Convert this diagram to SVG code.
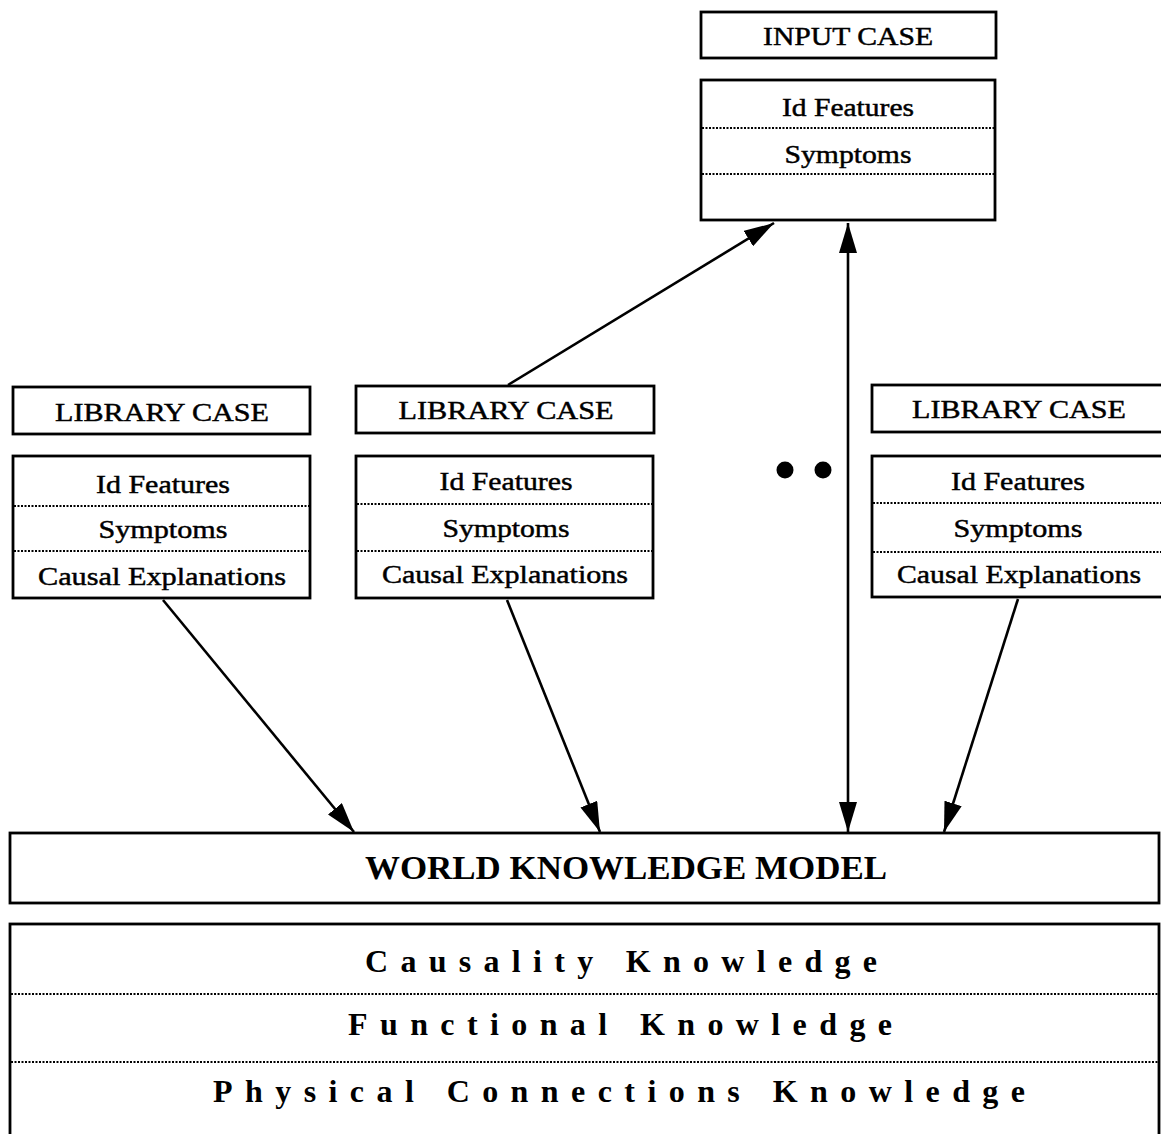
<svg xmlns="http://www.w3.org/2000/svg" width="1161" height="1134" viewBox="0 0 1161 1134">
<style>
.box{fill:#fff;stroke:#000;stroke-width:2.8}
.dot{stroke:#000;stroke-width:2.2;stroke-dasharray:2 1.5;fill:none}
.t{font-family:"Liberation Serif","Times New Roman",serif;font-size:25px;fill:#000;stroke:#000;stroke-width:0.45;text-anchor:middle}
.tb{font-family:"Liberation Serif","Times New Roman",serif;font-weight:bold;fill:#000;text-anchor:middle}
.conn{stroke:#000;stroke-width:2.6;fill:none}
</style>
<defs>
<marker id="ah" markerUnits="userSpaceOnUse" markerWidth="30" markerHeight="18" refX="30" refY="9" orient="auto-start-reverse" viewBox="0 0 30 18">
<path d="M0,0 L30,9 L0,18 z" fill="#000"/>
</marker>
</defs>
<rect width="1161" height="1134" fill="#fff"/>

<g id="input-case">
<rect class="box" x="701" y="12" width="295" height="46"/>
<text class="t" x="848" y="45" textLength="170" lengthAdjust="spacingAndGlyphs">INPUT CASE</text>
<rect class="box" x="701" y="80" width="294" height="140"/>
<line class="dot" x1="702" y1="128" x2="994" y2="128"/>
<line class="dot" x1="702" y1="174" x2="994" y2="174"/>
<text class="t" x="848" y="116" textLength="132" lengthAdjust="spacingAndGlyphs">Id Features</text>
<text class="t" x="848" y="163" textLength="127" lengthAdjust="spacingAndGlyphs">Symptoms</text>
</g>

<g id="library-case-1">
<rect class="box" x="13" y="387" width="297" height="47"/>
<text class="t" x="162" y="421" textLength="214" lengthAdjust="spacingAndGlyphs">LIBRARY CASE</text>
<rect class="box" x="13" y="456" width="297" height="142"/>
<line class="dot" x1="14" y1="506" x2="309" y2="506"/>
<line class="dot" x1="14" y1="551" x2="309" y2="551"/>
<text class="t" x="163" y="493" textLength="134" lengthAdjust="spacingAndGlyphs">Id Features</text>
<text class="t" x="163" y="538" textLength="129" lengthAdjust="spacingAndGlyphs">Symptoms</text>
<text class="t" x="162" y="585" textLength="248" lengthAdjust="spacingAndGlyphs">Causal Explanations</text>
</g>

<g id="library-case-2">
<rect class="box" x="356" y="386" width="298" height="47"/>
<text class="t" x="506" y="419" textLength="215" lengthAdjust="spacingAndGlyphs">LIBRARY CASE</text>
<rect class="box" x="356" y="456" width="297" height="142"/>
<line class="dot" x1="357" y1="504" x2="652" y2="504"/>
<line class="dot" x1="357" y1="551" x2="652" y2="551"/>
<text class="t" x="506" y="490" textLength="133" lengthAdjust="spacingAndGlyphs">Id Features</text>
<text class="t" x="506" y="537" textLength="127" lengthAdjust="spacingAndGlyphs">Symptoms</text>
<text class="t" x="505" y="583" textLength="246" lengthAdjust="spacingAndGlyphs">Causal Explanations</text>
</g>

<g id="more-cases">
<circle cx="785" cy="470" r="8.5" fill="#000"/>
<circle cx="823" cy="470" r="8.5" fill="#000"/>
</g>

<g id="library-case-3">
<rect class="box" x="872" y="385" width="300" height="47"/>
<text class="t" x="1019" y="418" textLength="214" lengthAdjust="spacingAndGlyphs">LIBRARY CASE</text>
<rect class="box" x="872" y="456" width="300" height="141"/>
<line class="dot" x1="873" y1="503" x2="1161" y2="503"/>
<line class="dot" x1="873" y1="552" x2="1161" y2="552"/>
<text class="t" x="1018" y="490" textLength="134" lengthAdjust="spacingAndGlyphs">Id Features</text>
<text class="t" x="1018" y="537" textLength="129" lengthAdjust="spacingAndGlyphs">Symptoms</text>
<text class="t" x="1019" y="583" textLength="244" lengthAdjust="spacingAndGlyphs">Causal Explanations</text>
</g>

<g id="world-knowledge-model">
<rect class="box" x="10" y="833" width="1149" height="70"/>
<text class="tb" x="626" y="879" font-size="33" textLength="522" lengthAdjust="spacingAndGlyphs">WORLD KNOWLEDGE MODEL</text>
</g>

<g id="knowledge-layers">
<rect class="box" x="10" y="924" width="1149" height="220"/>
<line class="dot" x1="11" y1="994" x2="1158" y2="994"/>
<line class="dot" x1="11" y1="1062" x2="1158" y2="1062"/>
<text class="tb" x="621" y="972" font-size="32" textLength="512" lengthAdjust="spacing">Causality Knowledge</text>
<text class="tb" x="620" y="1035" font-size="32" textLength="544" lengthAdjust="spacing">Functional Knowledge</text>
<text class="tb" x="619" y="1102" font-size="32" textLength="812" lengthAdjust="spacing">Physical Connections Knowledge</text>
</g>

<g id="connectors">
<line class="conn" x1="508" y1="385" x2="774" y2="223" marker-end="url(#ah)"/>
<line class="conn" x1="848" y1="223" x2="848" y2="832" marker-start="url(#ah)" marker-end="url(#ah)"/>
<line class="conn" x1="163" y1="600" x2="354" y2="832" marker-end="url(#ah)"/>
<line class="conn" x1="507" y1="600" x2="600" y2="832" marker-end="url(#ah)"/>
<line class="conn" x1="1018" y1="599" x2="944" y2="832" marker-end="url(#ah)"/>
</g>
</svg>
